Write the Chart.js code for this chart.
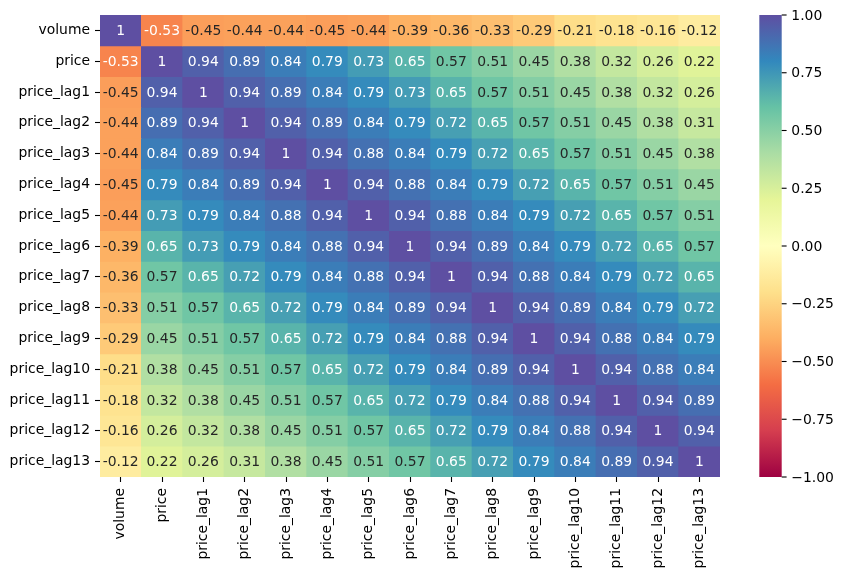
<!DOCTYPE html>
<html>
<head>
<meta charset="utf-8">
<script src="https://cdn.jsdelivr.net/npm/chart.js@4.4.1/dist/chart.umd.min.js"></script>
<style>
  body { margin: 0; background: #fff; }
  canvas { display: block; }
</style>
</head>
<body>
<canvas id="heat" width="844" height="577"></canvas>
<script>
// labels (same for rows and columns)
const labels = ["volume", "price", "price_lag1", "price_lag2", "price_lag3", "price_lag4",
  "price_lag5", "price_lag6", "price_lag7", "price_lag8", "price_lag9", "price_lag10",
  "price_lag11", "price_lag12", "price_lag13"];

// correlation matrix, one row per label
const corr = [
  [1, -0.53, -0.45, -0.44, -0.44, -0.45, -0.44, -0.39, -0.36, -0.33, -0.29, -0.21, -0.18, -0.16, -0.12],
  [-0.53, 1, 0.94, 0.89, 0.84, 0.79, 0.73, 0.65, 0.57, 0.51, 0.45, 0.38, 0.32, 0.26, 0.22],
  [-0.45, 0.94, 1, 0.94, 0.89, 0.84, 0.79, 0.73, 0.65, 0.57, 0.51, 0.45, 0.38, 0.32, 0.26],
  [-0.44, 0.89, 0.94, 1, 0.94, 0.89, 0.84, 0.79, 0.72, 0.65, 0.57, 0.51, 0.45, 0.38, 0.31],
  [-0.44, 0.84, 0.89, 0.94, 1, 0.94, 0.88, 0.84, 0.79, 0.72, 0.65, 0.57, 0.51, 0.45, 0.38],
  [-0.45, 0.79, 0.84, 0.89, 0.94, 1, 0.94, 0.88, 0.84, 0.79, 0.72, 0.65, 0.57, 0.51, 0.45],
  [-0.44, 0.73, 0.79, 0.84, 0.88, 0.94, 1, 0.94, 0.88, 0.84, 0.79, 0.72, 0.65, 0.57, 0.51],
  [-0.39, 0.65, 0.73, 0.79, 0.84, 0.88, 0.94, 1, 0.94, 0.89, 0.84, 0.79, 0.72, 0.65, 0.57],
  [-0.36, 0.57, 0.65, 0.72, 0.79, 0.84, 0.88, 0.94, 1, 0.94, 0.88, 0.84, 0.79, 0.72, 0.65],
  [-0.33, 0.51, 0.57, 0.65, 0.72, 0.79, 0.84, 0.89, 0.94, 1, 0.94, 0.89, 0.84, 0.79, 0.72],
  [-0.29, 0.45, 0.51, 0.57, 0.65, 0.72, 0.79, 0.84, 0.88, 0.94, 1, 0.94, 0.88, 0.84, 0.79],
  [-0.21, 0.38, 0.45, 0.51, 0.57, 0.65, 0.72, 0.79, 0.84, 0.89, 0.94, 1, 0.94, 0.88, 0.84],
  [-0.18, 0.32, 0.38, 0.45, 0.51, 0.57, 0.65, 0.72, 0.79, 0.84, 0.88, 0.94, 1, 0.94, 0.89],
  [-0.16, 0.26, 0.32, 0.38, 0.45, 0.51, 0.57, 0.65, 0.72, 0.79, 0.84, 0.88, 0.94, 1, 0.94],
  [-0.12, 0.22, 0.26, 0.31, 0.38, 0.45, 0.51, 0.57, 0.65, 0.72, 0.79, 0.84, 0.89, 0.94, 1]
];

// colorbar ticks
const cbTicks = [-1, -0.75, -0.5, -0.25, 0, 0.25, 0.5, 0.75, 1];

// Spectral colormap (low -> high)
const spectral = ["#9e0142", "#d53e4f", "#f46d43", "#fdae61", "#fee08b", "#ffffbf",
  "#e6f598", "#abdda4", "#66c2a5", "#3288bd", "#5e4fa2"];

const FONT = '"DejaVu Sans", "Liberation Sans", sans-serif';

function hexToRgb(h) {
  return [1, 3, 5].map((i) => parseInt(h.substr(i, 2), 16));
}

function cmapRgb(v) {
  let t = (v + 1) / 2 * 10;
  t = Math.max(0, Math.min(10, t));
  const i = Math.min(9, Math.floor(t));
  const f = t - i;
  const a = hexToRgb(spectral[i]);
  const b = hexToRgb(spectral[i + 1]);
  return a.map((c, k) => Math.round(c + (b[k] - c) * f));
}

function cmap(v) {
  const c = cmapRgb(v);
  return `rgb(${c[0]},${c[1]},${c[2]})`;
}

// seaborn picks text colour from the cell luminance
function textColor(v) {
  const lin = cmapRgb(v).map((c) => {
    c = c / 255;
    return c <= 0.03928 ? c / 12.92 : Math.pow((c + 0.055) / 1.055, 2.4);
  });
  const lum = 0.2126 * lin[0] + 0.7152 * lin[1] + 0.0722 * lin[2];
  return lum > 0.408 ? "#262626" : "#ffffff";
}

function fmt(v) {
  return String(Number(v.toPrecision(2)));
}

// one floating-bar dataset per row
const datasets = corr.map((row, i) => ({
  label: labels[i],
  data: row.map(() => [i, i + 1]),
  backgroundColor: row.map((v) => cmap(v)),
  borderWidth: 0,
  barPercentage: 1,
  categoryPercentage: 1,
  grouped: false
}));

const annotate = {
  id: "annotate",
  afterDatasetsDraw(chart) {
    const ctx = chart.ctx;
    const xs = chart.scales.x;
    const ys = chart.scales.y;
    ctx.save();
    ctx.font = "13.9px " + FONT;
    ctx.textAlign = "center";
    ctx.textBaseline = "middle";
    corr.forEach((row, i) => {
      row.forEach((v, j) => {
        ctx.fillStyle = textColor(v);
        ctx.fillText(fmt(v), xs.getPixelForValue(j), ys.getPixelForValue(i + 0.5) + 1);
      });
    });
    ctx.restore();
  }
};

const colorbar = {
  id: "colorbar",
  afterDraw(chart) {
    const ctx = chart.ctx;
    const s = chart.scales.cb;
    const x0 = s.left + 39.3;
    const w = 22.4;
    const top = s.getPixelForValue(1);
    const bottom = s.getPixelForValue(-1);
    const grad = ctx.createLinearGradient(0, bottom, 0, top);
    spectral.forEach((c, i) => grad.addColorStop(i / (spectral.length - 1), c));
    ctx.save();
    ctx.fillStyle = grad;
    ctx.fillRect(x0, top, w, bottom - top);
    ctx.strokeStyle = "#000";
    ctx.lineWidth = 1.1;
    ctx.fillStyle = "#000";
    ctx.font = "13.9px " + FONT;
    ctx.textAlign = "left";
    ctx.textBaseline = "middle";
    cbTicks.forEach((v) => {
      const y = s.getPixelForValue(v);
      ctx.beginPath();
      ctx.moveTo(x0 + w, y);
      ctx.lineTo(x0 + w + 4.9, y);
      ctx.stroke();
      const txt = (v < 0 ? "\u2212" : "") + Math.abs(v).toFixed(2);
      ctx.fillText(txt, x0 + w + 9.6, y + 1);
    });
    ctx.restore();
  }
};

const tickFont = { family: FONT, size: 13.9 };

new Chart(document.getElementById("heat"), {
  type: "bar",
  data: { labels: labels, datasets: datasets },
  options: {
    responsive: false,
    animation: false,
    layout: { padding: { top: 15, left: 0, right: 0, bottom: 0 } },
    plugins: { legend: { display: false }, tooltip: { enabled: false } },
    scales: {
      x: {
        type: "category",
        offset: true,
        grid: { drawOnChartArea: false, offset: false, tickLength: 5, tickColor: "#000", tickWidth: 1.1 },
        border: { display: false },
        ticks: { font: tickFont, color: "#000", minRotation: 90, maxRotation: 90, autoSkip: false, padding: 6 },
        afterFit(scale) { scale.height = 100; }
      },
      y: {
        type: "linear",
        reverse: true,
        min: 0,
        max: 15,
        afterBuildTicks(scale) {
          scale.ticks = labels.map((_, i) => ({ value: i + 0.5 }));
        },
        grid: { drawOnChartArea: false, tickLength: 5, tickColor: "#000", tickWidth: 1.1 },
        border: { display: false },
        ticks: {
          font: tickFont,
          color: "#000",
          padding: 5,
          autoSkip: false,
          callback: (value) => labels[Math.floor(value)]
        },
        afterFit(scale) { scale.width = 100; }
      },
      cb: {
        type: "linear",
        axis: "y",
        position: "right",
        min: -1,
        max: 1,
        grid: { display: false },
        border: { display: false },
        ticks: { display: false },
        afterFit(scale) { scale.width = 124; }
      }
    }
  },
  plugins: [annotate, colorbar]
});
</script>
</body>
</html>
